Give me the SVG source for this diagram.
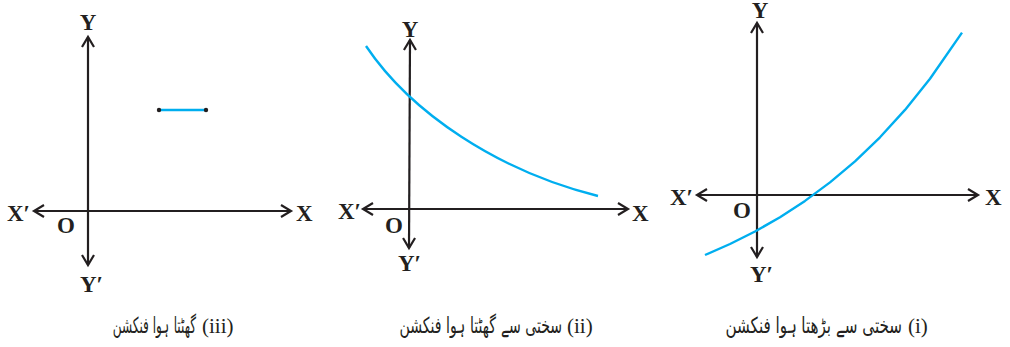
<svg xmlns="http://www.w3.org/2000/svg" width="1010" height="347" viewBox="0 0 1010 347">
<style>
.ax{stroke:#231f20;stroke-width:2.2;fill:none;marker-start:url(#arr);marker-end:url(#arr)}
.lbl{font-family:"Liberation Serif",serif;font-weight:bold;font-size:23px;fill:#231f20}
.cap{font-family:"Liberation Serif",serif;font-size:21px;fill:#231f20}
.ur{font-family:"DejaVu Sans","Noto Sans",sans-serif;font-size:22px;fill:#231f20}
.cv{stroke:#00aeef;stroke-width:2.4;fill:none}
</style>
<defs>
<marker id="arr" markerUnits="userSpaceOnUse" markerWidth="16" markerHeight="16" refX="12" refY="8" orient="auto-start-reverse" viewBox="0 0 16 16">
<path d="M2,2 L12,8 L2,14" fill="none" stroke="#231f20" stroke-width="2.2"/>
</marker>
</defs>
<g id="graph-iii">
<g id="axes-iii">
<path class="ax" d="M34,211 L291,211"/>
<path class="ax" d="M88,265 L88,37"/>
</g>
<text class="lbl" x="88" y="30" text-anchor="middle">Y</text>
<text class="lbl" x="7" y="221">X′</text>
<text class="lbl" x="296" y="221">X</text>
<text class="lbl" x="57" y="233">O</text>
<text class="lbl" x="80" y="292">Y′</text>
<path class="cv" d="M159,110 L206,110"/>
<circle cx="159" cy="110" r="2.2" fill="#231f20"/>
<circle cx="206" cy="110" r="2.2" fill="#231f20"/>
<text class="ur" transform="translate(196,333) scale(0.55,1)" text-anchor="end">گھٹتا ہوا فنکشن</text>
<text class="cap" x="202" y="333">(iii)</text>
</g>
<g id="graph-ii">
<g id="axes-ii">
<path class="ax" d="M363,209 L628,209"/>
<path class="ax" d="M409,248 L410,40"/>
</g>
<text class="lbl" x="410" y="37" text-anchor="middle">Y</text>
<text class="lbl" x="338" y="219">X′</text>
<text class="lbl" x="632" y="221">X</text>
<text class="lbl" x="385" y="233">O</text>
<text class="lbl" x="398" y="271">Y′</text>
<path class="cv" d="M366,46 C411,113 498,171 598,196"/>
<text class="ur" transform="translate(562,333) scale(0.64,1)" text-anchor="end">سختی سے گھٹتا ہوا فنکشن</text>
<text class="cap" x="567" y="333">(ii)</text>
</g>
<g id="graph-i">
<g id="axes-i">
<path class="ax" d="M697,195 L978,195"/>
<path class="ax" d="M757,257 L757,23"/>
</g>
<text class="lbl" x="760" y="18" text-anchor="middle">Y</text>
<text class="lbl" x="670" y="205">X′</text>
<text class="lbl" x="985" y="205">X</text>
<text class="lbl" x="733" y="218">O</text>
<text class="lbl" x="750" y="282">Y′</text>
<path class="cv" d="M705,255 L730,244 L755,231.5 L780,217.2 L805,200.9 L830,182.4 L855,161.3 L880,137.3 L905,109.9 L930,78.8 L962,32.6" stroke-linejoin="round"/>
<text class="ur" transform="translate(902,333) scale(0.69,1)" text-anchor="end">سختی سے بڑھتا ہوا فنکشن</text>
<text class="cap" x="908" y="333">(i)</text>
</g>
</svg>
